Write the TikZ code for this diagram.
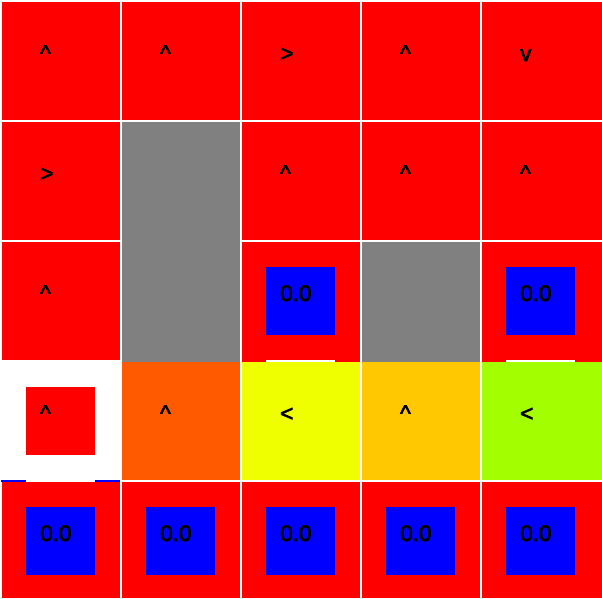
\documentclass[tikz,border=0pt]{standalone}
\usepackage{fontspec}
\setmainfont{Liberation Sans}
\newfontfamily\gridfont[FakeBold=3]{Liberation Sans}
\usetikzlibrary{positioning, calc}
\definecolor{wallgrey}{HTML}{808080}
\definecolor{valorange}{HTML}{FF5A00}
\definecolor{valyellow}{HTML}{F0FF00}
\definecolor{valamber}{HTML}{FFC800}
\definecolor{vallime}{HTML}{A3FF00}

\begin{document}
\begin{tikzpicture}[x=1pt, y=-1pt,
      cell/.style = {fill=red, anchor=north west, inner sep=0, outer sep=0, minimum width=118.5pt, minimum height=118.5pt},
      goal/.style = {fill=blue, anchor=north west, inner sep=0, outer sep=0, minimum width=69pt, minimum height=68pt},
      strip/.style = {anchor=north west, inner sep=0, outer sep=0, minimum height=2pt},
      txt/.style = {anchor=base west, inner sep=0, font=\gridfont\fontsize{22.5}{27}\selectfont}
    ]

    \fill[white] (0,0) rectangle (602,598);
    \useasboundingbox (0,0) rectangle (602,598);

    % row 0
    \node[cell] (c00) at (1.5,1.5) {};
    \node[cell] (c10) at (121.5,1.5) {};
    \node[cell] (c20) at (241.5,1.5) {};
    \node[cell] (c30) at (361.5,1.5) {};
    \node[cell, minimum width=120.5pt] (c40) at (481.5,1.5) {};

    % row 1
    \node[cell] (c01) at (1.5,121.5) {};
    \node[cell, fill=wallgrey, minimum height=240.2pt] (c11) at (121.5,121.5) {};
    \node[cell] (c21) at (241.5,121.5) {};
    \node[cell] (c31) at (361.5,121.5) {};
    \node[cell, minimum width=120.5pt] (c41) at (481.5,121.5) {};

    % row 2
    \node[cell] (c02) at (1.5,241.5) {};
    \node[cell, minimum height=120.2pt] (c22) at (241.5,241.5) {};
    \node[cell, fill=wallgrey, minimum height=120.2pt] (c32) at (361.5,241.5) {};
    \node[cell, minimum width=120.5pt, minimum height=120.2pt] (c42) at (481.5,241.5) {};
    \node[goal] (g22) at (266,267) {};
    \node[goal] (g42) at (506,267) {};
    \node[strip, fill=white, minimum width=69pt] (s22) at (266,359.6) {};
    \node[strip, fill=white, minimum width=69pt] (s42) at (506,359.6) {};

    % row 3
    \node[cell, fill=white, minimum height=120pt] (c03) at (1.5,360) {};
    \node[cell, fill=valorange, minimum height=118.3pt] (c13) at (121.5,361.7) {};
    \node[cell, fill=valyellow, minimum height=118.3pt] (c23) at (241.5,361.7) {};
    \node[cell, fill=valamber, minimum height=118.3pt] (c33) at (361.5,361.7) {};
    \node[cell, fill=vallime, minimum width=120.5pt, minimum height=118.3pt] (c43) at (481.5,361.7) {};
    \node[goal, fill=red] (a03) at (26,387) {};
    \node[strip, fill=blue, minimum width=24.5pt, minimum height=1.7pt] (b03l) at (1,480) {};
    \node[strip, fill=blue, minimum width=25pt, minimum height=1.7pt] (b03r) at (95,480) {};

    % row 4
    \node[cell, minimum height=116.3pt] (c04) at (1.5,481.7) {};
    \node[cell, minimum height=116.3pt] (c14) at (121.5,481.7) {};
    \node[cell, minimum height=116.3pt] (c24) at (241.5,481.7) {};
    \node[cell, minimum height=116.3pt] (c34) at (361.5,481.7) {};
    \node[cell, minimum width=120.5pt, minimum height=116.3pt] (c44) at (481.5,481.7) {};
    \node[goal] (g04) at (26,507) {};
    \node[goal] (g14) at (146,507) {};
    \node[goal] (g24) at (266,507) {};
    \node[goal] (g34) at (386,507) {};
    \node[goal] (g44) at (506,507) {};

    % labels
    \node[txt] (t00) at ($(c00.north west)+(38.5,59.5)$) {\textasciicircum};
    \node[txt] (t10) at ($(c10.north west)+(38.5,59.5)$) {\textasciicircum};
    \node[txt] (t20) at ($(c20.north west)+(38.5,59.5)$) {>};
    \node[txt] (t30) at ($(c30.north west)+(38.5,59.5)$) {\textasciicircum};
    \node[txt] (t40) at ($(c40.north west)+(38.5,59.5)$) {v};
    \node[txt] (t01) at ($(c01.north west)+(38.5,59.5)$) {>};
    \node[txt] (t21) at ($(c21.north west)+(38.5,59.5)$) {\textasciicircum};
    \node[txt] (t31) at ($(c31.north west)+(38.5,59.5)$) {\textasciicircum};
    \node[txt] (t41) at ($(c41.north west)+(38.5,59.5)$) {\textasciicircum};
    \node[txt] (t02) at ($(c02.north west)+(38.5,59.5)$) {\textasciicircum};
    \node[txt] (t22) at ($(c22.north west)+(38.5,59.5)$) {0.0};
    \node[txt] (t42) at ($(c42.north west)+(38.5,59.5)$) {0.0};
    \node[txt] (t03) at ($(c03.north west)+(38.5,61)$) {\textasciicircum};
    \node[txt] (t13) at ($(c13.north west)+(38.5,59.3)$) {\textasciicircum};
    \node[txt] (t23) at ($(c23.north west)+(38.5,59.3)$) {<};
    \node[txt] (t33) at ($(c33.north west)+(38.5,59.3)$) {\textasciicircum};
    \node[txt] (t43) at ($(c43.north west)+(38.5,59.3)$) {<};
    \node[txt] (t04) at ($(c04.north west)+(38.5,59.3)$) {0.0};
    \node[txt] (t14) at ($(c14.north west)+(38.5,59.3)$) {0.0};
    \node[txt] (t24) at ($(c24.north west)+(38.5,59.3)$) {0.0};
    \node[txt] (t34) at ($(c34.north west)+(38.5,59.3)$) {0.0};
    \node[txt] (t44) at ($(c44.north west)+(38.5,59.3)$) {0.0};

    \end{tikzpicture}
\end{document}
